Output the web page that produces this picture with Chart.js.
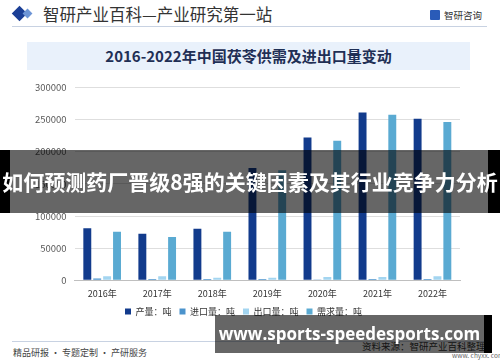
<!DOCTYPE html>
<html><head><meta charset="utf-8">
<script src="https://cdn.jsdelivr.net/npm/chart.js@4/dist/chart.umd.min.js"></script>
<style>
html,body{margin:0;padding:0;background:#fff;}
#wrap{position:relative;width:500px;height:362px;overflow:hidden;font-family:"Noto Sans CJK SC","Noto Sans",sans-serif;}
.abs{position:absolute;white-space:nowrap;}
</style></head>
<body><div id="wrap">
  <div class="abs" style="left:14px;top:8px;width:11px;height:11px;background:#1b3f96;transform:rotate(45deg);"></div>
  <div class="abs" style="left:24px;top:10px;width:7px;height:7px;background:#6d95d6;transform:rotate(45deg);"></div>
  <div class="abs" style="left:43px;top:3px;font-size:16.5px;color:#333;line-height:22px;">智研产业百科—产业研究第一站</div>
  <div class="abs" style="left:430px;top:10px;width:10px;height:10px;background:#2a5bb8;border-radius:1px;"></div>
  <div class="abs" style="left:444px;top:8px;font-size:9.5px;color:#333;line-height:14px;">智研咨询</div>
  <div class="abs" style="left:12px;top:26px;width:475px;height:1px;background:#c8d2e2;"></div>
  <div class="abs" style="left:27px;top:42px;width:443px;height:28px;background:#e9f1fb;"></div>
  <div class="abs" style="left:27px;top:42px;width:443px;height:28px;line-height:28px;text-align:center;font-size:15px;font-weight:700;color:#1f2f55;">2016-2022年中国茯苓供需及进出口量变动</div>
  <canvas id="c" class="abs" style="left:0;top:74px;" width="500" height="252"></canvas>
  <div class="abs" style="left:12px;top:341px;width:476px;height:1px;background:#c8d2e2;"></div>
  <div class="abs" style="left:13px;top:346px;font-size:9px;color:#444;line-height:13px;">精品研报 · 专题定制 · 产研服务</div>
  <div class="abs" style="left:362px;top:340px;font-size:9.5px;color:#333;line-height:13px;">资料来源：智研产业百科整理</div>
  <div class="abs" style="left:452px;top:351px;font-size:6.5px;color:#666;line-height:9px;">www. chyxx. com</div>
  <div class="abs" style="left:0;top:150px;width:10px;height:63px;background:#000;"></div>
  <div class="abs" style="left:10px;top:150px;width:478px;height:63px;background:rgba(0,0,0,0.6);"></div>
  <div class="abs" style="left:488px;top:150px;width:12px;height:63px;background:#000;"></div>
  <div class="abs" style="left:0;top:150px;width:500px;height:63px;line-height:63px;text-align:center;font-size:21px;font-weight:700;color:#fff;">如何预测药厂晋级8强的关键因素及其行业竞争力分析</div>
  <div class="abs" style="left:215px;top:315px;width:269px;height:38px;background:rgba(0,0,0,0.6);"></div>
  <div class="abs" style="left:484px;top:315px;width:8px;height:38px;background:#000;"></div>
  <div class="abs" style="left:215px;top:315px;width:269px;height:38px;line-height:38px;text-align:center;font-size:17px;font-weight:700;color:#fff;font-family:'Open Sans','DejaVu Sans',sans-serif;">www.sports-speedesports.com</div>
</div>
<script>
const categories = ["2016年","2017年","2018年","2019年","2020年","2021年","2022年"];
const production = [81000, 72500, 80000, 175000, 222500, 261500, 251500];
const imports    = [2500, 2000, 2000, 2000, 300, 2000, 2000];
const exports    = [6000, 6000, 4000, 4000, 5000, 5000, 6000];
const demand     = [75500, 67500, 75500, 171500, 217500, 258000, 246500];
const yTicks = [0, 50000, 100000, 150000, 200000, 250000, 300000];

new Chart(document.getElementById('c'), {
  type: 'bar',
  data: {
    labels: categories,
    datasets: [
      {label: '产量：吨', data: production, backgroundColor: '#123b8c'},
      {label: '进口量：吨', data: imports, backgroundColor: '#4b93cc'},
      {label: '出口量：吨', data: exports, backgroundColor: '#a3d5f0'},
      {label: '需求量：吨', data: demand, backgroundColor: '#5aaad2'}
    ]
  },
  options: {
    responsive: false,
    animation: false,
    layout: {padding: {left: 27, right: 40, top: 4, bottom: 0}},
    datasets: {bar: {categoryPercentage: 0.72, barPercentage: 0.8}},
    plugins: {
      legend: {
        position: 'bottom',
        labels: {boxWidth: 6, boxHeight: 6, padding: 8, color: '#333',
                 font: {size: 9, family: '"Noto Sans CJK SC", sans-serif'}}
      },
      tooltip: {enabled: false}
    },
    scales: {
      x: {
        grid: {display: false},
        border: {color: '#bfbfbf'},
        ticks: {color: '#333', padding: 0, font: {size: 9, family: '"Noto Sans CJK SC", sans-serif'}}
      },
      y: {
        min: 0, max: 300000,
        afterBuildTicks: (ax) => { ax.ticks = yTicks.map(v => ({value: v})); },
        grid: {color: '#dedede', drawTicks: false},
        border: {display: false},
        ticks: {color: '#595959', padding: 8, font: {size: 9.5, family: '"Noto Sans CJK SC", sans-serif'},
                callback: (v) => String(v)}
      }
    }
  }
});
</script>
</body></html>
